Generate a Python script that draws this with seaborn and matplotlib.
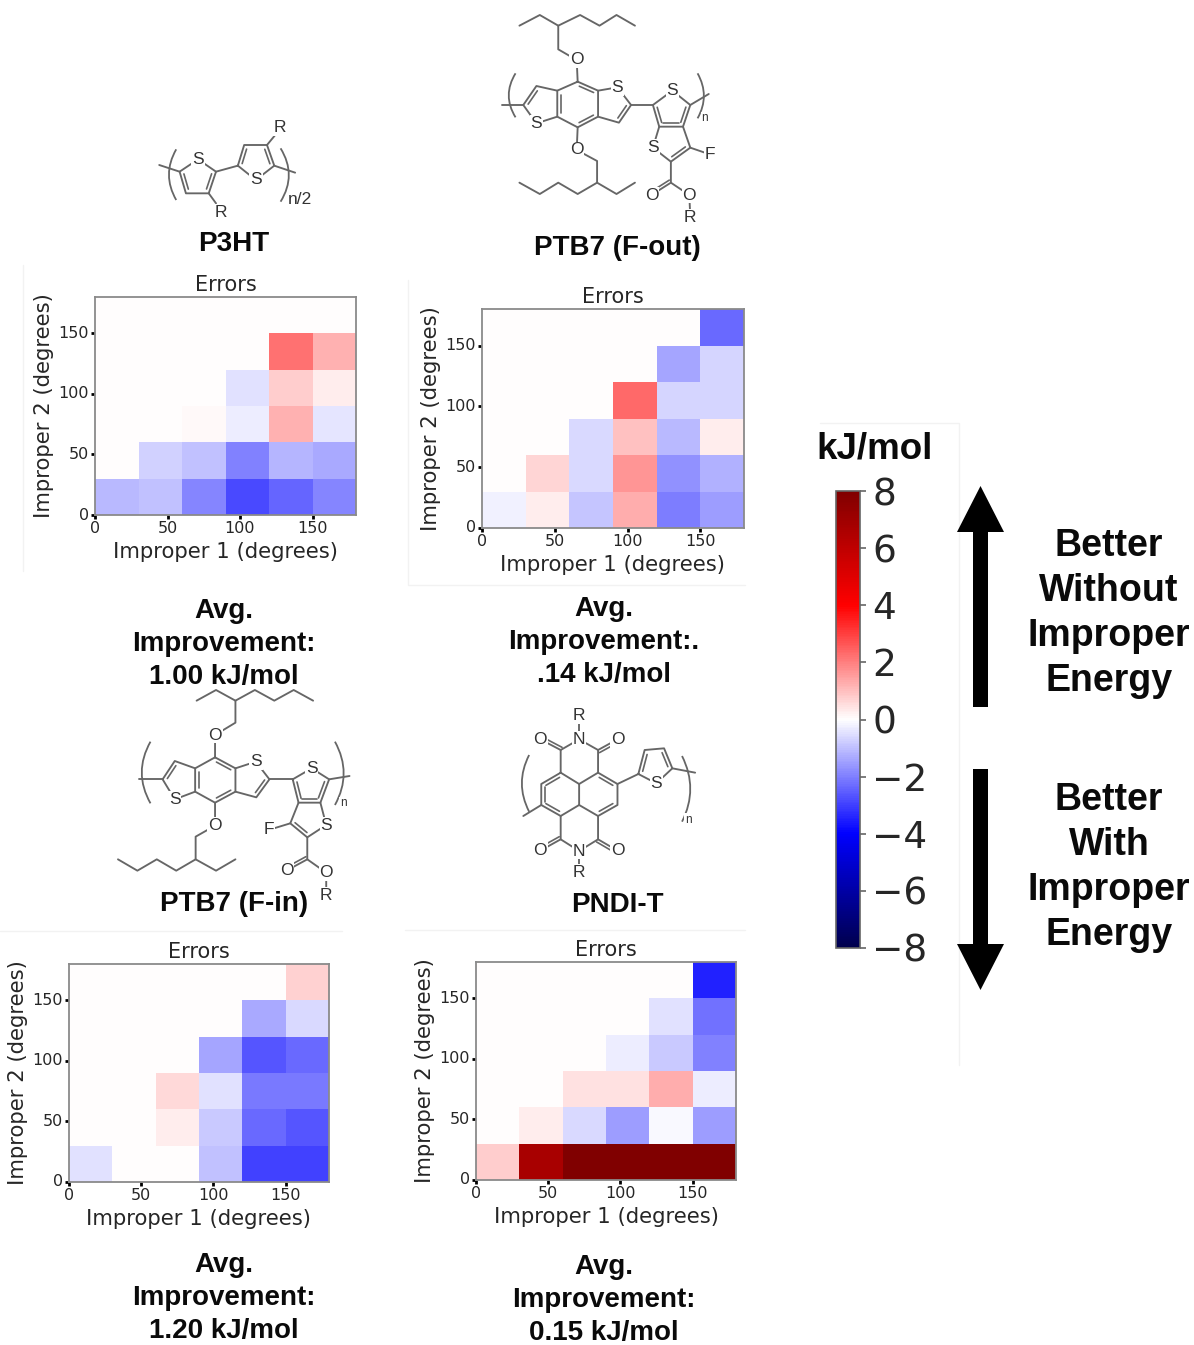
import numpy as np
import matplotlib
matplotlib.use("Agg")
import matplotlib.pyplot as plt
import seaborn as sns
from matplotlib.path import Path
from matplotlib.patches import PathPatch

W, H = 1194, 1345

# heatmap values in kJ/mol, rows go from improper 2 = 0-30 up to 150-180
p3ht_vals = [
    [-1.1, -1.0, -1.9, -2.85, -2.4, -1.9],
    [0.0, -0.75, -1.0, -2.0, -1.15, -1.35],
    [0.0, 0.0, 0.08, -0.3, 1.2, -0.4],
    [0.0, 0.0, 0.0, -0.45, 0.8, 0.3],
    [0.0, 0.0, 0.0, 0.0, 2.2, 1.2],
    [0.0, 0.0, 0.0, 0.0, 0.0, 0.0],
]
fout_vals = [
    [-0.22, 0.3, -0.9, 1.3, -2.05, -1.55],
    [0.0, 0.65, -0.62, 1.65, -1.7, -1.25],
    [0.0, 0.0, -0.6, 0.95, -1.1, 0.25],
    [0.0, 0.0, 0.0, 2.35, -0.65, -0.65],
    [0.0, 0.0, 0.0, 0.0, -1.4, -0.65],
    [0.0, 0.0, 0.0, 0.0, 0.0, -2.35],
]
fin_vals = [
    [-0.5, 0.0, 0.0, -0.95, -3.0, -3.0],
    [0.0, 0.0, 0.3, -0.85, -2.35, -2.65],
    [0.0, 0.0, 0.58, -0.5, -2.1, -2.1],
    [0.0, 0.0, 0.0, -1.4, -2.65, -2.35],
    [0.0, 0.0, 0.0, 0.0, -1.35, -0.6],
    [0.0, 0.0, 0.0, 0.0, 0.0, 0.7],
]
pndi_vals = [
    [0.8, 6.7, 8.0, 8.0, 8.0, 8.0],
    [0.0, 0.3, -0.62, -1.55, -0.1, -1.55],
    [0.0, 0.0, 0.45, 0.45, 1.3, -0.3],
    [0.0, 0.0, 0.0, -0.3, -0.85, -2.0],
    [0.0, 0.0, 0.0, 0.0, -0.5, -2.25],
    [0.0, 0.0, 0.0, 0.0, 0.0, -3.45],
]
tick_degrees = [0, 50, 100, 150]
cbar_ticks = [-8, -6, -4, -2, 0, 2, 4, 6, 8]

sns.set_theme(style="white")
plt.rcParams["font.family"] = ["DejaVu Sans"]
BOLD = "Liberation Sans"
INK = "#262626"
BOND = "#666666"

fig = plt.figure(figsize=(W / 100, H / 100), dpi=100)


def px_axes(left, top, right, bottom):
    return fig.add_axes([left / W, 1 - bottom / H, (right - left) / W, (bottom - top) / H])


bg = fig.add_axes([0, 0, 1, 1])
bg.set_xlim(0, W)
bg.set_ylim(H, 0)
bg.axis("off")


def heat(vals, box):
    ax = px_axes(*box)
    sns.heatmap(np.array(vals), ax=ax, cmap="seismic", vmin=-8, vmax=8, cbar=False)
    ax.invert_yaxis()
    pos = [v / 30 for v in tick_degrees]
    ax.set_xticks(pos)
    ax.set_xticklabels(tick_degrees, rotation=0, fontsize=11.5, color=INK)
    ax.set_yticks(pos)
    ax.set_yticklabels(tick_degrees, rotation=0, fontsize=11.5, color=INK)
    ax.tick_params(length=3, width=2, pad=1.5, color="black", bottom=True, left=True)
    ax.set_title("Errors", fontsize=15, color=INK, pad=4)
    ax.set_xlabel("Improper 1 (degrees)", fontsize=15.2, color=INK, labelpad=4)
    ax.set_ylabel("Improper 2 (degrees)", fontsize=15.2, color=INK, labelpad=3)
    for s in ax.spines.values():
        s.set_visible(True)
        s.set_color("#8a8a8a")
        s.set_linewidth(1.3)
    return ax


ax1 = heat(p3ht_vals, (95, 297, 356, 515))
ax2 = heat(fout_vals, (482, 309, 744, 528))
ax3 = heat(fin_vals, (69, 964, 329, 1182))
ax4 = heat(pndi_vals, (476, 962, 736, 1180))

# colorbar
cax = px_axes(836, 491, 860, 948)
cb = fig.colorbar(ax1.collections[0], cax=cax, ticks=cbar_ticks)
cb.ax.tick_params(labelsize=27, length=4, width=1.2, color="#666666", labelcolor=INK, pad=5)
cb.outline.set_edgecolor("#666666")
cb.outline.set_linewidth(1.2)

# faint edges of the pasted panels
for xs, ys in [
    ([23, 23], [265, 571]),
    ([408, 408, 745], [280, 585, 585]),
    ([0, 342], [931, 931]),
    ([405, 745], [930, 930]),
    ([820, 959, 959], [423, 423, 1065]),
]:
    bg.plot(xs, ys, color="#f2f2f2", lw=1, zorder=1)


def bold(x, y, lines, size=20, step=33):
    for i, s in enumerate(lines):
        bg.text(x, y + 2 + i * step, s, family=BOLD, weight="bold", fontsize=size,
                ha="center", va="center", color="#0a0a0a")


bold(224, 609, ["Avg.", "Improvement:", "1.00 kJ/mol"])
bold(604, 607, ["Avg.", "Improvement:.", ".14 kJ/mol"])
bold(224, 1263, ["Avg.", "Improvement:", "1.20 kJ/mol"])
bold(604, 1265, ["Avg.", "Improvement:", "0.15 kJ/mol"])
bold(234, 242, ["P3HT"])
bold(617, 246, ["PTB7 (F-out)"])
bold(234, 902, ["PTB7 (F-in)"])
bold(617, 903, ["PNDI-T"])
bold(875, 447, ["kJ/mol"], size=26.5)
bold(1109, 544, ["Better", "Without", "Improper", "Energy"], size=27, step=45)
bold(1109, 798, ["Better", "With", "Improper", "Energy"], size=27, step=45)

# big arrows
bg.fill([980.5, 1004, 988, 988, 973, 973, 957], [486, 532, 532, 707, 707, 532, 532],
        color="black", lw=0, zorder=3)
bg.fill([980.5, 1004, 988, 988, 973, 973, 957], [990, 944, 944, 769, 769, 944, 944],
        color="black", lw=0, zorder=3)


class Mol:
    def __init__(self, y0=0):
        self.y0 = y0

    def p(self, pt):
        return pt[0] / 2.06, self.y0 + pt[1] / 3

    def line(self, *pts):
        xy = [self.p(q) for q in pts]
        bg.plot([q[0] for q in xy], [q[1] for q in xy], color=BOND, lw=1.35, solid_capstyle="round")

    def inner(self, a, b, c):
        # second stroke of a double bond, pulled toward point c
        a, b, c = np.array(self.p(a)), np.array(self.p(b)), np.array(self.p(c))
        d = b - a
        n = np.array([-d[1], d[0]]) / np.hypot(*d)
        if np.dot(c - a, n) < 0:
            n = -n
        s, e = a + 0.15 * d + 3.5 * n, b - 0.15 * d + 3.5 * n
        bg.plot([s[0], e[0]], [s[1], e[1]], color=BOND, lw=1.2)

    def side(self, a, b, sign=1):
        a, b = np.array(self.p(a)), np.array(self.p(b))
        d = b - a
        n = np.array([-d[1], d[0]]) / np.hypot(*d) * sign
        s, e = a + 3 * n, b + 3 * n
        bg.plot([s[0], e[0]], [s[1], e[1]], color=BOND, lw=1.2)

    def atom(self, pt, s, size=12.5):
        x, y = self.p(pt)
        bg.text(x, y, s, family="Liberation Sans", fontsize=size, color="#333333",
                ha="center", va="center",
                bbox=dict(boxstyle="square,pad=0.05", fc="white", ec="none"), zorder=5)

    def paren(self, x_end, x_bulge, y0, y1):
        a, b = self.p((x_end, y0)), self.p((x_end, y1))
        c = self.p((2 * x_bulge - x_end, (y0 + y1) / 2))
        verts = [a, c, b]
        bg.add_patch(PathPatch(Path(verts, [Path.MOVETO, Path.CURVE3, Path.CURVE3]),
                               fc="none", ec=BOND, lw=1.3))


# P3HT
m = Mol()
r1 = [(408, 478), (445, 515), (430, 580), (383, 580), (370, 515), (408, 478)]
r2 = [(490, 497), (503, 435), (550, 435), (565, 497), (527, 540), (490, 497)]
m.line(*r1)
m.line(*r2)
m.inner((445, 515), (430, 580), (408, 535))
m.inner((383, 580), (370, 515), (408, 535))
m.inner((490, 497), (503, 435), (527, 480))
m.inner((550, 435), (565, 497), (527, 480))
m.line((445, 515), (490, 497))
m.line((430, 580), (445, 610))
m.line((550, 435), (567, 405))
m.line((370, 515), (328, 495))
m.line((565, 497), (608, 518))
m.paren(363, 348, 448, 600)
m.paren(578, 595, 445, 605)
m.atom((408, 478), "S")
m.atom((527, 540), "S")
m.atom((455, 638), "R")
m.atom((577, 383), "R")
m.atom((617, 600), "n/2")


def bdt(m, c):
    # shared benzodithiophene core, c holds the ring atoms
    top, ur, lr, bot, ll, ul = c["benz"]
    m.line(top, ur, lr, bot, ll, ul, top)
    mid = ((ur[0] + ll[0]) / 2, (ur[1] + ll[1]) / 2)
    m.inner(top, ur, mid)
    m.inner(lr, bot, mid)
    m.inner(ll, ul, mid)
    a, b, s = c["left"]
    m.line(ul, a, b, s, ll)
    m.inner(a, b, ll)
    s, a, b = c["right"]
    m.line(ur, s, a, b, lr)
    m.inner(a, b, ur)


# PTB7 (F-out)
m = Mol()
bdt(m, {"benz": [(1190, 245), (1232, 272), (1232, 350), (1190, 382), (1148, 350), (1148, 272)],
        "left": [(1105, 258), (1078, 315), (1105, 370)],
        "right": [(1272, 262), (1300, 315), (1275, 368)]})
m.line((1070, 77), (1112, 45), (1150, 77), (1195, 45), (1235, 77), (1270, 45), (1308, 77))
m.line((1150, 77), (1150, 148), (1188, 180))
m.line((1188, 180), (1190, 245))
m.line((1190, 382), (1188, 450), (1230, 483), (1230, 548))
m.line((1070, 548), (1112, 582), (1150, 548), (1190, 582), (1230, 548), (1270, 582), (1308, 548))
m.line((1078, 315), (1035, 315))
m.line((1300, 315), (1345, 315))
m.line((1345, 315), (1385, 272), (1422, 315), (1407, 380), (1358, 380), (1345, 315))
m.line((1358, 380), (1345, 443), (1382, 485), (1422, 443), (1407, 380))
m.inner((1345, 315), (1358, 380), (1385, 340))
m.inner((1422, 315), (1407, 380), (1385, 340))
m.inner((1358, 380), (1407, 380), (1385, 340))
m.inner((1382, 485), (1422, 443), (1385, 420))
m.line((1422, 443), (1462, 463))
m.line((1382, 485), (1382, 548), (1342, 585))
m.side((1382, 548), (1342, 585))
m.line((1382, 548), (1420, 585), (1422, 652))
m.line((1422, 315), (1460, 282))
m.paren(1062, 1048, 220, 352)
m.paren(1437, 1450, 220, 355)
for pt, s in [((1188, 180), "O"), ((1188, 450), "O"), ((1272, 262), "S"), ((1105, 370), "S"),
              ((1385, 272), "S"), ((1345, 443), "S"), ((1462, 463), "F"), ((1342, 585), "O"),
              ((1420, 585), "O"), ((1422, 652), "R")]:
    m.atom(pt, s)
m.atom((1452, 355), "n", size=8.5)

# PTB7 (F-in)
m = Mol(680)
bdt(m, {"benz": [(443, 232), (485, 265), (485, 335), (443, 368), (402, 335), (402, 265)],
        "left": [(360, 243), (335, 298), (360, 358)],
        "right": [(527, 245), (555, 298), (528, 352)]})
m.line((405, 62), (445, 30), (485, 62), (525, 30), (565, 62), (605, 30), (645, 62))
m.line((485, 62), (485, 128), (443, 165), (443, 232))
m.line((443, 368), (443, 437), (403, 470), (403, 538))
m.line((243, 538), (283, 572), (323, 538), (363, 572), (403, 538), (445, 572), (485, 538))
m.line((335, 298), (287, 298))
m.line((555, 298), (603, 298))
m.line((603, 298), (642, 265), (678, 298), (660, 368), (615, 368), (603, 298))
m.line((615, 368), (598, 430), (633, 472), (672, 435), (660, 368))
m.inner((603, 298), (615, 368), (640, 325))
m.inner((678, 298), (660, 368), (640, 325))
m.inner((615, 368), (660, 368), (640, 325))
m.inner((598, 430), (633, 472), (635, 420))
m.line((598, 430), (553, 450))
m.line((633, 472), (633, 538), (590, 572))
m.side((633, 538), (590, 572))
m.line((633, 538), (672, 578), (672, 645))
m.line((678, 298), (720, 288))
m.paren(310, 292, 185, 370)
m.paren(690, 708, 185, 375)
for pt, s in [((443, 165), "O"), ((443, 437), "O"), ((527, 245), "S"), ((360, 358), "S"),
              ((642, 265), "S"), ((672, 435), "S"), ((553, 450), "F"), ((590, 572), "O"),
              ((672, 578), "O"), ((672, 645), "R")]:
    m.atom(pt, s)
m.atom((707, 370), "n", size=8.5)

# PNDI-T
m = Mol(680)
A, B, C, D = (1155, 278), (1232, 278), (1272, 312), (1272, 375)
E, F, G, Hh = (1232, 408), (1155, 408), (1115, 375), (1115, 312)
I, J = (1193, 312), (1193, 375)
m.line(A, Hh, G, F, J, I, A)
m.line(I, B, C, D, E, J)
m.inner(A, Hh, I)
m.inner(Hh, G, I)
m.inner(G, F, J)
m.inner(B, C, I)
m.inner(D, E, J)
m.line((1155, 278), (1155, 210), (1193, 178), (1232, 210), (1232, 278))
m.line((1155, 408), (1155, 478), (1193, 513), (1232, 478), (1232, 408))
m.line((1155, 210), (1113, 178))
m.side((1155, 210), (1113, 178))
m.line((1232, 210), (1272, 178))
m.side((1232, 210), (1272, 178))
m.line((1155, 478), (1113, 512))
m.side((1155, 478), (1113, 512))
m.line((1232, 478), (1272, 512))
m.side((1232, 478), (1272, 512))
m.line((1193, 108), (1193, 178))
m.line((1193, 513), (1193, 578))
m.line(C, (1315, 282))
m.line((1315, 282), (1328, 210), (1368, 205), (1385, 265), (1352, 310), (1315, 282))
m.inner((1315, 282), (1328, 210), (1350, 255))
m.inner((1368, 205), (1385, 265), (1350, 255))
m.line((1385, 265), (1432, 278))
m.line(G, (1078, 408))
m.paren(1090, 1075, 225, 395)
m.paren(1405, 1422, 228, 425)
for pt, s in [((1193, 108), "R"), ((1193, 178), "N"), ((1113, 178), "O"), ((1272, 178), "O"),
              ((1193, 513), "N"), ((1113, 512), "O"), ((1272, 512), "O"), ((1193, 578), "R"),
              ((1352, 310), "S")]:
    m.atom(pt, s)
m.atom((1418, 420), "n", size=8.5)

fig.savefig("out.png", dpi=100)
